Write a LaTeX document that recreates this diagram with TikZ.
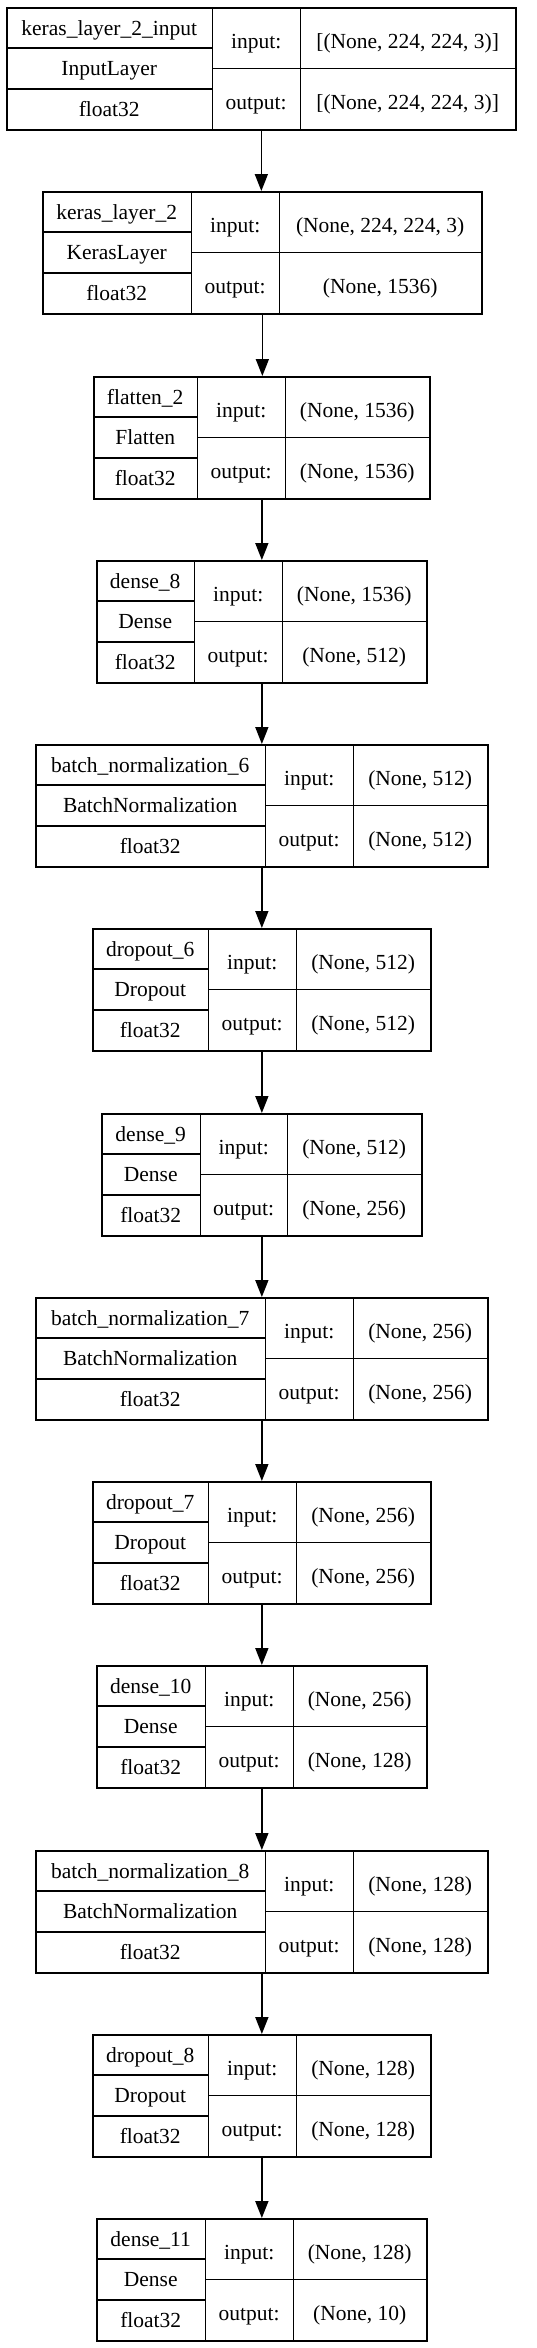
\documentclass[tikz,border=0pt]{standalone}
\usepackage{fontspec}
\setmainfont{Liberation Serif}
\usetikzlibrary{arrows.meta}
\tikzset{
  cell/.style={draw=none, inner sep=0pt, anchor=north west, font=\fontsize{21.5}{22}\selectfont, text height=15pt, text depth=0pt},
  iocell/.style={cell, text height=22pt, text depth=0pt},
  frame/.style={draw=black, line width=1.7pt, inner sep=0pt, anchor=north west},
  rule/.style={draw=black, line width=1.7pt},
  flow/.style={draw=black, line width=1.7pt, -{Triangle[length=17pt,width=13pt]}}
}
\newcommand\layerbox[9]{%
  \pgfmathsetmacro\lbtop{round(7+(#1-1)*184.25)}%
  \pgfmathsetmacro\lbwa{#3-#2}%
  \pgfmathsetmacro\lbwb{#4-#3}%
  \pgfmathsetmacro\lbwc{#5-#4}%
  \pgfmathsetmacro\lbw{#5-#2}%
  \pgfmathsetmacro\lbrow{122/3}%
  \node[frame, minimum width=\lbw pt, minimum height=122pt] (L#1) at (#2,\lbtop) {};
  \node[cell, minimum width=\lbwa pt, minimum height=\lbrow pt] (L#1n) at (#2,\lbtop) {#6};
  \node[cell, minimum width=\lbwa pt, minimum height=\lbrow pt] (L#1c) at (#2,\lbtop+\lbrow) {#7};
  \node[cell, minimum width=\lbwa pt, minimum height=\lbrow pt] (L#1d) at (#2,\lbtop+2*\lbrow) {float32};
  \node[iocell, minimum width=\lbwb pt, minimum height=61pt] (L#1il) at (#3,\lbtop) {input:};
  \node[iocell, minimum width=\lbwb pt, minimum height=61pt] (L#1ol) at (#3,\lbtop+61) {output:};
  \node[iocell, minimum width=\lbwc pt, minimum height=61pt] (L#1iv) at (#4,\lbtop) {#8};
  \node[iocell, minimum width=\lbwc pt, minimum height=61pt] (L#1ov) at (#4,\lbtop+61) {#9};
  \draw[rule] (L#1n.north east) -- (L#1d.south east);
  \draw[rule] (L#1il.north east) -- (L#1ol.south east);
  \draw[rule] (L#1n.south west) -- (L#1n.south east);
  \draw[rule] (L#1c.south west) -- (L#1c.south east);
  \draw[rule] (L#1il.south west) -- (L#1iv.south east);
}
\begin{document}
\begin{tikzpicture}[x=1pt,y=-1pt]
\useasboundingbox (0,0) rectangle (536,2348);
\fill[white] (0,0) rectangle (536,2348);
\layerbox{1}{6}{212}{300}{515}{keras\_layer\_2\_input}{InputLayer}{[(None, 224, 224, 3)]}{[(None, 224, 224, 3)]}
\layerbox{2}{42}{191}{279}{481}{keras\_layer\_2}{KerasLayer}{(None, 224, 224, 3)}{(None, 1536)}
\layerbox{3}{93}{197}{285}{429}{flatten\_2}{Flatten}{(None, 1536)}{(None, 1536)}
\layerbox{4}{96}{194}{282}{426}{dense\_8}{Dense}{(None, 1536)}{(None, 512)}
\layerbox{5}{35}{265}{353}{487}{batch\_normalization\_6}{BatchNormalization}{(None, 512)}{(None, 512)}
\layerbox{6}{92}{208}{296}{430}{dropout\_6}{Dropout}{(None, 512)}{(None, 512)}
\layerbox{7}{101}{200}{287}{421}{dense\_9}{Dense}{(None, 512)}{(None, 256)}
\layerbox{8}{35}{265}{353}{487}{batch\_normalization\_7}{BatchNormalization}{(None, 256)}{(None, 256)}
\layerbox{9}{92}{208}{296}{430}{dropout\_7}{Dropout}{(None, 256)}{(None, 256)}
\layerbox{10}{96}{205}{293}{426}{dense\_10}{Dense}{(None, 256)}{(None, 128)}
\layerbox{11}{35}{265}{353}{487}{batch\_normalization\_8}{BatchNormalization}{(None, 128)}{(None, 128)}
\layerbox{12}{92}{208}{296}{430}{dropout\_8}{Dropout}{(None, 128)}{(None, 128)}
\layerbox{13}{96}{205}{293}{426}{dense\_11}{Dense}{(None, 128)}{(None, 10)}
\foreach \a/\b in {1/2,2/3,3/4,4/5,5/6,6/7,7/8,8/9,9/10,10/11,11/12,12/13}{
  \draw[flow] (L\a.south) -- (L\a.south |- L\b.north);
}
\end{tikzpicture}
\end{document}
